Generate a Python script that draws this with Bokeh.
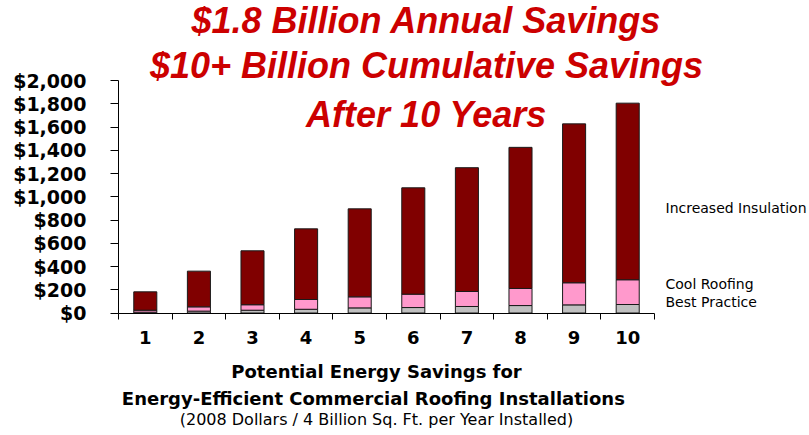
from bokeh.plotting import figure
from bokeh.models import ColumnDataSource, FixedTicker, Label, NumeralTickFormatter, Range1d
from bokeh.embed import file_html
from bokeh.resources import INLINE

# ---- data ($ millions) ----
years = [1, 2, 3, 4, 5, 6, 7, 8, 9, 10]
best_practice = [7, 16, 24, 32, 44, 47, 56, 64, 70, 73]
cool_roofing = [17, 37, 47, 84, 95, 115, 129, 147, 190, 213]
increased_insulation = [158, 307, 464, 608, 757, 915, 1065, 1214, 1367, 1519]
series_names = ["Best Practice", "Cool Roofing", "Increased Insulation"]
y_ticks = [0, 200, 400, 600, 800, 1000, 1200, 1400, 1600, 1800, 2000]
title_lines = ["$1.8 Billion Annual Savings",
               "$10+ Billion Cumulative Savings",
               "After 10 Years"]
footer_lines = ["Potential Energy Savings for",
                "Energy-Efficient  Commercial Roofing Installations",
                "(2008 Dollars / 4 Billion Sq. Ft. per Year Installed)"]

# ---- layout geometry (canvas pixels) ----
W, H = 809, 435
AX_L, AX_R, AX_T, AX_B = 118, 654, 80, 312.5   # where the chart's axes sit
XMIN, XMAX = 0.5, 10.5
YMIN, YMAX = 0, 2000
XSCALE = (AX_R - AX_L) / (XMAX - XMIN)   # px per x unit
YSCALE = (AX_B - AX_T) / (YMAX - YMIN)   # px per y unit


def dx(px):
    return XMIN + (px - AX_L) / XSCALE


def dy(py):
    return YMIN + (AX_B - py) / YSCALE


source = ColumnDataSource(dict(x=years, bp=best_practice, cr=cool_roofing, ii=increased_insulation))

p = figure(width=W, height=H, output_backend="svg", toolbar_location=None,
           x_range=Range1d(dx(0), dx(W)), y_range=Range1d(dy(H), dy(0)),
           min_border=0, min_border_left=0, min_border_right=0,
           min_border_top=0, min_border_bottom=0)
p.outline_line_color = None
p.xgrid.visible = False
p.ygrid.visible = False
p.background_fill_color = "white"
p.border_fill_color = "white"

p.vbar_stack(["bp", "cr", "ii"], x="x", width=0.43, source=source,
             fill_color=["#C0C0C0", "#FF99CC", "#800000"],
             line_color="#1a1a1a", line_width=1)

# y axis
p.yaxis.fixed_location = XMIN
p.yaxis.bounds = (YMIN, YMAX)
p.yaxis.ticker = FixedTicker(ticks=y_ticks)
p.yaxis.formatter = NumeralTickFormatter(format="$0,0")
p.yaxis.major_label_text_font = "DejaVu Sans"
p.yaxis.major_label_text_font_style = "bold"
p.yaxis.major_label_text_font_size = "19px"
p.yaxis.major_label_text_color = "black"
p.yaxis.major_tick_out = 8
p.yaxis.major_tick_in = 0
p.yaxis.minor_tick_out = 0
p.yaxis.minor_tick_in = 0
p.yaxis.major_label_standoff = 24
p.yaxis.axis_line_color = "black"
p.yaxis.major_tick_line_color = "black"

# x axis: labels at bar centres, tick marks at category boundaries
p.xaxis.fixed_location = YMIN
p.xaxis.bounds = (XMIN, XMAX)
p.xaxis.ticker = FixedTicker(ticks=years, minor_ticks=[y - 0.5 for y in years] + [years[-1] + 0.5])
p.xaxis.major_tick_out = 0
p.xaxis.major_tick_in = 0
p.xaxis.minor_tick_out = 6
p.xaxis.minor_tick_in = 0
p.xaxis.minor_tick_line_color = "black"
p.xaxis.axis_line_color = "black"
p.xaxis.major_label_text_font = "DejaVu Sans"
p.xaxis.major_label_text_font_style = "bold"
p.xaxis.major_label_text_font_size = "18px"
p.xaxis.major_label_text_color = "black"
p.xaxis.major_label_standoff = 12

# title (overlapping the plot area, as in the original)
title_centres = [20, 65, 114]
for line, cy in zip(title_lines, title_centres):
    p.add_layout(Label(x=dx(426), y=dy(cy), text=line, text_align="center",
                       text_baseline="middle", text_font="Liberation Sans",
                       text_font_style="bold italic", text_font_size="36px",
                       text_color="#CC0000"))

# series labels at the right
legend_centres = [301, 283, 207]
for name, cy in zip(series_names, legend_centres):
    p.add_layout(Label(x=dx(665), y=dy(cy), text=name, text_align="left",
                       text_baseline="middle", text_font="DejaVu Sans",
                       text_font_size="14px", text_color="black"))

# footer text
footer_centres = [371, 398, 419]
footer_styles = ["bold", "bold", "normal"]
footer_sizes = ["18px", "18px", "16px"]
for line, cy, st, sz in zip(footer_lines, footer_centres, footer_styles, footer_sizes):
    p.add_layout(Label(x=dx(376), y=dy(cy), text=line, text_align="center",
                       text_baseline="middle", text_font="DejaVu Sans",
                       text_font_style=st, text_font_size=sz, text_color="black"))

open("out.html", "w").write(file_html(p, INLINE))
